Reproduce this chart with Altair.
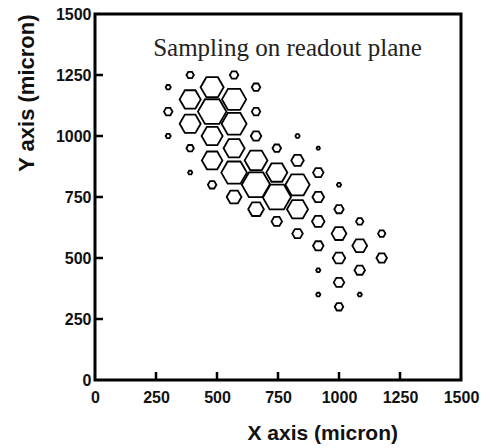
import altair as alt
import pandas as pd

# Sampled cells (hexagonal readout pads): centre x, centre y (micron), relative signal
cell_x = [300, 300, 300,
          390, 390, 390, 390, 390,
          480, 480, 480, 480, 480,
          570, 570, 570, 570, 570, 570,
          660, 660, 660, 660, 660, 660,
          745, 745, 745, 745,
          830, 830, 830, 830, 830,
          915, 915, 915, 915, 915, 915, 915,
          1000, 1000, 1000, 1000, 1000, 1000,
          1085, 1085, 1085, 1085,
          1175, 1175]
cell_y = [1200, 1100, 1000,
          1250, 1150, 1050, 950, 850,
          1200, 1100, 1000, 900, 800,
          1250, 1150, 1050, 950, 850, 750,
          1200, 1100, 1000, 900, 800, 700,
          950, 850, 750, 650,
          1000, 900, 800, 700, 600,
          950, 850, 750, 650, 550, 450, 350,
          800, 700, 600, 500, 400, 300,
          650, 550, 450, 350,
          600, 500]
cell_amp = [0.18, 0.30, 0.18,
            0.26, 0.74, 0.74, 0.26, 0.15,
            0.81, 1.00, 0.74, 0.72, 0.30,
            0.30, 0.85, 0.88, 0.74, 0.90, 0.52,
            0.30, 0.30, 0.37, 0.80, 1.00, 0.55,
            0.30, 0.74, 1.00, 0.37,
            0.15, 0.44, 0.85, 0.74, 0.37,
            0.12, 0.37, 0.41, 0.44, 0.37, 0.15, 0.15,
            0.15, 0.33, 0.52, 0.44, 0.37, 0.30,
            0.26, 0.52, 0.37, 0.15,
            0.26, 0.37]

axis_values = [0, 250, 500, 750, 1000, 1250, 1500]
inner_ticks = [250, 500, 750, 1000, 1250]

HEX = "M-1,0L-0.5,-0.866L0.5,-0.866L1,0L0.5,0.866L-0.5,0.866Z"

df = pd.DataFrame({"x": cell_x, "y": cell_y, "amp": cell_amp})
ticks_df = pd.DataFrame({"x": inner_ticks, "y": inner_ticks})

W, H = 366, 366
xs = alt.Scale(domain=[0, 1500], nice=False, zero=False)
ys = alt.Scale(domain=[0, 1500], nice=False, zero=False)

lab = dict(labelFont="Liberation Sans", labelFontSize=16, labelFontWeight="bold",
           labelColor="#111", labelFlush=False, labelOverlap=False, format="d",
           ticks=False, domain=False, grid=False,
           titleFont="Liberation Sans", titleFontWeight="bold", titleColor="#111")

x_axis = alt.Axis(values=axis_values, title="X axis (micron)", labelPadding=9,
                  titleFontSize=21, titleAlign="right", titleBaseline="alphabetic",
                  titleX=302.5, titleY=59, **lab)
y_axis = alt.Axis(values=axis_values, title="Y axis (micron)", labelPadding=4,
                  titleFontSize=22, titleAngle=270, titleAlign="right",
                  titleBaseline="alphabetic", titleX=-61.5, titleY=0, **lab)

cells = alt.Chart(df).mark_point(shape=HEX, filled=False, color="black",
                                 strokeWidth=1.8, opacity=1).encode(
    x=alt.X("x:Q", scale=xs, axis=x_axis),
    y=alt.Y("y:Q", scale=ys, axis=y_axis),
    size=alt.Size("amp:Q", scale=alt.Scale(type="pow", exponent=2, domain=[0, 1],
                                           range=[0, 812]), legend=None),
)

xticks = alt.Chart(ticks_df).mark_rule(color="black", strokeWidth=2.5).encode(
    x=alt.X("x:Q", scale=xs, axis=x_axis),
    y=alt.value(H), y2=alt.value(H - 8),
)
yticks = alt.Chart(ticks_df).mark_rule(color="black", strokeWidth=2.5).encode(
    y=alt.Y("y:Q", scale=ys, axis=y_axis),
    x=alt.value(0), x2=alt.value(8),
)

label = alt.Chart(pd.DataFrame({"s": ["Sampling on readout plane"]})).mark_text(
    font="Liberation Serif", fontSize=25, color="#222", align="center",
    baseline="alphabetic").encode(
    text="s:N", x=alt.value(192.5), y=alt.value(42))

chart = alt.layer(cells, xticks, yticks, label).properties(
    width=W, height=H, autosize="none",
    padding={"left": 95, "top": 14, "right": 32, "bottom": 68},
).configure(
    background="white",
    view=alt.ViewConfig(stroke="black", strokeWidth=3),
)

chart.save("out.html", embed_options={"renderer": "svg", "actions": False})
